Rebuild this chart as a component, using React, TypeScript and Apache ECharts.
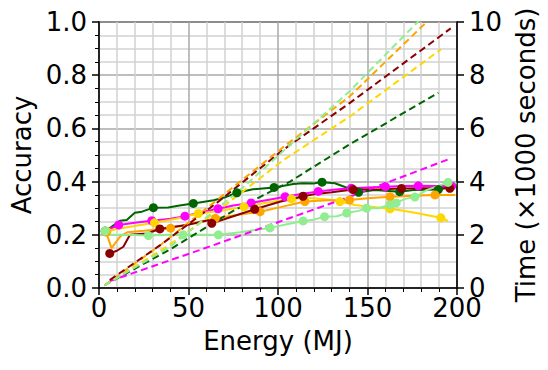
import React, { useEffect, useRef } from "react";
import * as echarts from "echarts";

// Accuracy series: [energy MJ, accuracy, marker flag]
const accDarkGreen = [
  [3.4, 0.214, 1], [7, 0.23], [11.7, 0.253], [15.5, 0.256], [20, 0.283], [24, 0.287],
  [30.4, 0.302, 1], [38.7, 0.303], [45, 0.31], [52.7, 0.318, 1], [64, 0.33], [70, 0.34],
  [77, 0.358, 1], [86, 0.371], [97.8, 0.378, 1], [108.6, 0.391], [114, 0.394], [119.7, 0.393],
  [124.6, 0.398, 1], [131.8, 0.394], [139.3, 0.375], [145, 0.36, 1], [154, 0.368],
  [168, 0.362, 1], [175.6, 0.368], [189.6, 0.37, 1], [200, 0.385],
];
const accMagenta = [
  [4.5, 0.218], [11, 0.237, 1], [20, 0.245], [29.5, 0.253, 1], [40, 0.26], [48, 0.27, 1],
  [57, 0.285], [66.5, 0.298, 1], [75, 0.31], [85, 0.32, 1], [95, 0.332], [104, 0.343, 1],
  [113, 0.353], [122.5, 0.363, 1], [132, 0.37], [141, 0.375, 1], [150, 0.378], [160, 0.381, 1],
  [170, 0.383], [178.4, 0.384, 1], [188, 0.383], [197, 0.383, 1],
];
const accGold = [
  [4.5, 0.212, 1], [10, 0.222], [17.5, 0.23], [24, 0.238], [31, 0.245, 1], [43, 0.26],
  [55.5, 0.28, 1], [68, 0.29], [81, 0.305, 1], [95, 0.322], [107.5, 0.335, 1], [114, 0.338],
  [120, 0.337], [128, 0.333], [134.6, 0.325, 1], [143, 0.312], [152, 0.305], [162.6, 0.298, 1],
  [170, 0.29], [178, 0.281], [185, 0.272], [191, 0.264, 1], [195, 0.252],
];
const accOrange = [
  [4, 0.21, 1], [7, 0.15], [12, 0.195], [16, 0.21], [25, 0.215], [36, 0.222], [40, 0.225, 1],
  [50, 0.24], [65, 0.262, 1], [78, 0.275], [90, 0.287, 1], [102, 0.305], [115, 0.325, 1],
  [128, 0.33], [140, 0.331, 1], [150, 0.337], [162.6, 0.343, 1], [175, 0.347], [187.7, 0.35, 1],
  [199, 0.35],
];
const accDarkRed = [
  [6, 0.13, 1], [10, 0.14], [13.6, 0.155], [17.3, 0.2], [26.6, 0.205], [34, 0.222, 1], [42, 0.23],
  [49, 0.237], [58, 0.25], [61, 0.255], [63, 0.243, 1], [75, 0.27], [87, 0.296, 1], [101, 0.324],
  [114, 0.345, 1], [120, 0.352], [130, 0.36], [142, 0.37, 1], [157, 0.371], [169, 0.374, 1],
  [180, 0.375], [196, 0.375, 1],
];
const accLightGreen = [
  [3.4, 0.214, 1], [7, 0.2], [15, 0.2], [27.6, 0.197, 1], [38, 0.2], [47, 0.2, 1], [57, 0.2],
  [66.7, 0.2, 1], [78.8, 0.21], [87, 0.218], [95.5, 0.226, 1], [105, 0.24], [114, 0.252, 1],
  [120, 0.257], [126, 0.268, 1], [133, 0.27], [138.4, 0.282, 1], [145, 0.29], [149.5, 0.3, 1],
  [156, 0.3], [162.6, 0.313, 1], [166, 0.32, 1], [171, 0.335], [176.5, 0.342, 1], [183, 0.368],
  [190, 0.385], [195, 0.397, 1], [199.8, 0.393],
];

// Time series: [energy MJ, time in 1000 s]
const timeDarkRed = [[6, 0.3], [34, 1.6], [65.8, 3.2], [103, 5.2], [140, 6.95], [196.5, 9.76]];
const timeOrange = [[3, 0.1], [34, 1.6], [65.8, 3.3], [103, 5.3], [140, 7.2], [183, 10.0], [190, 10.5]];
const timeLightGreen = [[3, 0.1], [39.7, 1.55], [78.8, 3.68], [140, 7.4], [178, 10], [190, 10.8]];
const timeGold = [[3, 0.1], [37.8, 1.55], [69.4, 3.06], [103, 4.81], [140, 6.44], [191, 8.97]];
const timeDarkGreen = [[3, 0.1], [39.7, 1.45], [75, 2.9], [106.7, 4.0], [140, 5.4], [189.6, 7.34]];
const timeMagenta = [[6, 0.26], [56.4, 1.43], [140, 3.43], [196.5, 4.87]];

const xLabels = [0, 50, 100, 150, 200];

const FONT = "DejaVu Sans";

function accSeries(data: number[][], color: string) {
  return {
    type: "line",
    yAxisIndex: 0,
    data: data.map((d) => ({
      value: [d[0], d[1]],
      symbol: d[2] ? "circle" : "none",
    })),
    symbolSize: 9,
    showSymbol: true,
    itemStyle: { color },
    lineStyle: { color, width: 2 },
    emphasis: { disabled: true },
  };
}

function timeSeries(data: number[][], color: string) {
  return {
    type: "line",
    yAxisIndex: 1,
    data: data.map((d) => [d[0], d[1]]),
    symbol: "none",
    clip: true,
    lineStyle: { color, width: 2, type: [7, 4] },
    emphasis: { disabled: true },
  };
}

export default function App() {
  const ref = useRef<HTMLDivElement>(null);
  useEffect(() => {
    if (!ref.current) return;
    const chart = echarts.init(ref.current, null, { renderer: "svg" });
    const labelStyle = { fontFamily: FONT, fontSize: 26, color: "#000" };
    chart.setOption({
      animation: false,
      grid: {
        left: 99,
        right: 91,
        top: 22,
        bottom: 82,
        show: true,
        borderColor: "#000",
        borderWidth: 1.5,
      },
      xAxis: {
        type: "value",
        min: 0,
        max: 200,
        interval: 50,
        name: "Energy (MJ)",
        nameLocation: "middle",
        nameGap: 40,
        nameTextStyle: labelStyle,
        axisLine: { show: true, lineStyle: { color: "#000", width: 1.5 } },
        axisTick: { show: true, inside: false, length: 7, lineStyle: { color: "#000", width: 1.5 } },
        minorTick: { show: true, splitNumber: 5, length: 4, lineStyle: { color: "#000", width: 1 } },
        axisLabel: {
          ...labelStyle,
          margin: 7,
          formatter: (v: number) => (xLabels.includes(v) ? String(v) : ""),
        },
        splitLine: { show: true, lineStyle: { color: "#a8a8a8", width: 1.5 } },
        minorSplitLine: { show: true, lineStyle: { color: "#d2d2d2", width: 1.5 } },
      },
      yAxis: [
        {
          type: "value",
          min: 0,
          max: 1,
          interval: 0.2,
          name: "Accuracy",
          nameLocation: "middle",
          nameRotate: 90,
          nameGap: 57,
          nameTextStyle: labelStyle,
          axisLine: { show: true, lineStyle: { color: "#000", width: 1.5 } },
          axisTick: { show: true, inside: false, length: 7, lineStyle: { color: "#000", width: 1.5 } },
          minorTick: { show: true, splitNumber: 4, length: 4, lineStyle: { color: "#000", width: 1 } },
          axisLabel: { ...labelStyle, margin: 12, formatter: (v: number) => v.toFixed(1) },
          splitLine: { show: true, lineStyle: { color: "#a8a8a8", width: 1.5 } },
          minorSplitLine: { show: true, lineStyle: { color: "#d2d2d2", width: 1.5 } },
        },
        {
          type: "value",
          position: "right",
          min: 0,
          max: 10,
          interval: 2,
          name: "Time (×1000 seconds)",
          nameLocation: "middle",
          nameRotate: 90,
          nameGap: 52,
          nameTextStyle: labelStyle,
          axisLine: { show: true, lineStyle: { color: "#000", width: 1.5 } },
          axisTick: { show: true, inside: false, length: 7, lineStyle: { color: "#000", width: 1.5 } },
          axisLabel: { ...labelStyle, margin: 12 },
          splitLine: { show: false },
        },
      ],
      series: [
        accSeries(accDarkGreen, "#006400"),
        accSeries(accMagenta, "#ff00ff"),
        accSeries(accGold, "#ffd700"),
        accSeries(accOrange, "#ffa500"),
        accSeries(accDarkRed, "#8b0000"),
        accSeries(accLightGreen, "#90ee90"),
        timeSeries(timeDarkGreen, "#006400"),
        timeSeries(timeMagenta, "#ff00ff"),
        timeSeries(timeGold, "#ffd700"),
        timeSeries(timeOrange, "#ffa500"),
        timeSeries(timeDarkRed, "#8b0000"),
        timeSeries(timeLightGreen, "#90ee90"),
      ],
    });
    return () => chart.dispose();
  }, []);
  return (
    <div
      ref={ref}
      style={{ position: "fixed", left: 0, top: 0, width: 548, height: 370, background: "#fff" }}
    />
  );
}
